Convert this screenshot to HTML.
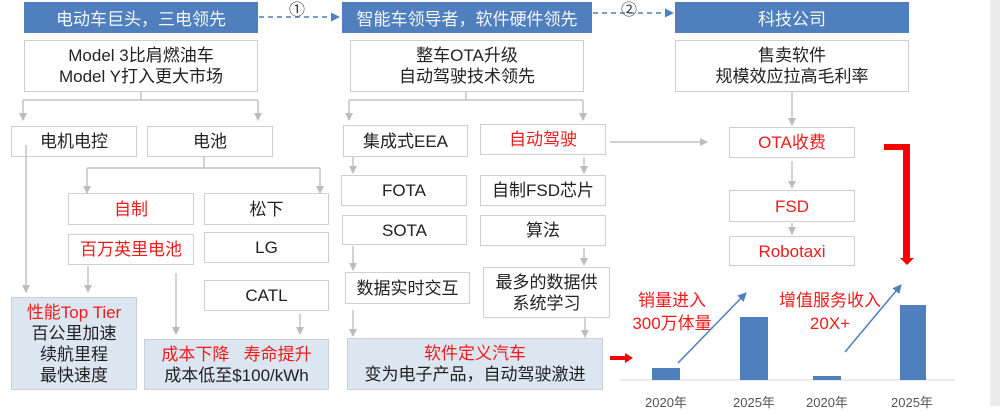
<!DOCTYPE html>
<html><head><meta charset="utf-8"><style>
body{margin:0;width:1000px;height:406px;background:#fff;position:relative;overflow:hidden;font-family:"Liberation Sans","Noto Sans CJK SC",sans-serif;}
.b{position:absolute;box-sizing:border-box;border:1.5px solid #cfcfcf;background:#fff;display:flex;flex-direction:column;align-items:center;justify-content:center;font-size:17px;color:#222;line-height:21px;text-align:center;}
.h{position:absolute;background:#4f7fbc;color:#f4f7fb;font-size:17px;display:flex;align-items:center;justify-content:center;}
.r{color:#f21b1b;}
.f{background:#dce6f1;}
svg{position:absolute;left:0;top:0;}
.y{position:absolute;font-size:13px;color:#555;top:392px;}
.t{position:absolute;color:#f21b1b;font-size:17px;text-align:center;line-height:23px;}
</style></head><body>
<div style="position:absolute;left:990px;top:0;width:10px;height:406px;background:#ececec"></div>
<div class="h" style="left:24px;top:2px;width:234px;height:31px">电动车巨头，三电领先</div>
<div class="h" style="left:342px;top:2px;width:250px;height:31px">智能车领导者，软件硬件领先</div>
<div class="h" style="left:675px;top:2px;width:234px;height:31px">科技公司</div>
<div style="position:absolute;left:289px;top:-4px;font-size:16px;color:#333">①</div>
<div style="position:absolute;left:621px;top:-4px;font-size:16px;color:#333">②</div>

<div class="b" style="left:24px;top:40px;width:234px;height:52px">Model 3比肩燃油车<br>Model Y打入更大市场</div>
<div class="b" style="left:350px;top:40px;width:234px;height:52px">整车OTA升级<br>自动驾驶技术领先</div>
<div class="b" style="left:675px;top:40px;width:234px;height:52px">售卖软件<br>规模效应拉高毛利率</div>

<div class="b" style="left:11px;top:126px;width:126px;height:31px">电机电控</div>
<div class="b" style="left:147px;top:126px;width:126px;height:31px">电池</div>
<div class="b r" style="left:68px;top:193px;width:126px;height:32px">自制</div>
<div class="b" style="left:204px;top:193px;width:125px;height:32px">松下</div>
<div class="b r" style="left:68px;top:234px;width:126px;height:31px">百万英里电池</div>
<div class="b" style="left:204px;top:232px;width:125px;height:31px">LG</div>
<div class="b" style="left:204px;top:280px;width:125px;height:31px">CATL</div>
<div class="b f" style="left:11px;top:297px;width:126px;height:93px"><span class="r">性能Top Tier</span>百公里加速<br>续航里程<br>最快速度</div>
<div class="b f" style="left:144px;top:339px;width:185px;height:51px"><span class="r">成本下降&nbsp;&nbsp;&nbsp;寿命提升</span>成本低至$100/kWh</div>

<div class="b" style="left:343px;top:125px;width:125px;height:32px">集成式EEA</div>
<div class="b r" style="left:480px;top:124px;width:126px;height:31px">自动驾驶</div>
<div class="b" style="left:341px;top:175px;width:126px;height:31px">FOTA</div>
<div class="b" style="left:480px;top:175px;width:126px;height:31px">自制FSD芯片</div>
<div class="b" style="left:342px;top:215px;width:125px;height:30px">SOTA</div>
<div class="b" style="left:480px;top:215px;width:126px;height:31px">算法</div>
<div class="b" style="left:345px;top:272px;width:125px;height:32px">数据实时交互</div>
<div class="b" style="left:483px;top:267px;width:127px;height:51px">最多的数据供<br>系统学习</div>
<div class="b f" style="left:347px;top:338px;width:256px;height:52px"><span class="r">软件定义汽车</span>变为电子产品，自动驾驶激进</div>

<div class="b r" style="left:729px;top:127px;width:126px;height:31px">OTA收费</div>
<div class="b r" style="left:729px;top:190px;width:126px;height:32px">FSD</div>
<div class="b r" style="left:729px;top:236px;width:126px;height:30px">Robotaxi</div>

<div class="t" style="left:612px;top:289px;width:120px">销量进入<br>300万体量</div>
<div class="t" style="left:770px;top:289px;width:120px">增值服务收入<br>20X+</div>
<div class="y" style="left:645px">2020年</div>
<div class="y" style="left:733px">2025年</div>
<div class="y" style="left:806px">2020年</div>
<div class="y" style="left:891px">2025年</div>

<svg width="1000" height="406">
<defs>
<marker id="g" markerWidth="8" markerHeight="8" refX="7" refY="4" orient="auto" markerUnits="userSpaceOnUse"><path d="M0,0 L8,4 L0,8 z" fill="#bdbdbd"/></marker>
<marker id="bl" markerWidth="9" markerHeight="9" refX="8" refY="4.5" orient="auto" markerUnits="userSpaceOnUse"><path d="M0,0 L9,4.5 L0,9 z" fill="#4f7fbc"/></marker>
</defs>
<g stroke="#4f7fbc" stroke-width="1.5" stroke-dasharray="5,4" fill="none">
<line x1="259" y1="17" x2="339" y2="17" marker-end="url(#bl)"/>
<line x1="593" y1="13" x2="673" y2="13" marker-end="url(#bl)"/>
</g>
<g stroke="#c4c4c4" stroke-width="1.5" fill="none">
<path d="M141 92V100M23 100H258"/>
<line x1="23" y1="100" x2="23" y2="120" marker-end="url(#g)"/>
<line x1="258" y1="100" x2="258" y2="120" marker-end="url(#g)"/>
<path d="M204 157V168M87 168H320"/>
<line x1="87" y1="168" x2="87" y2="193" marker-end="url(#g)"/>
<line x1="320" y1="168" x2="320" y2="193" marker-end="url(#g)"/>
<line x1="26" y1="145" x2="26" y2="292" marker-end="url(#g)"/>
<line x1="88" y1="266" x2="88" y2="292" marker-end="url(#g)"/>
<line x1="176" y1="273" x2="176" y2="334" marker-end="url(#g)"/>
<line x1="300" y1="314" x2="300" y2="334" marker-end="url(#g)"/>
<path d="M466 92V100M349 100H583"/>
<line x1="349" y1="100" x2="349" y2="120" marker-end="url(#g)"/>
<line x1="583" y1="100" x2="583" y2="120" marker-end="url(#g)"/>
<line x1="353" y1="157" x2="353" y2="173" marker-end="url(#g)"/>
<line x1="353" y1="246" x2="353" y2="270" marker-end="url(#g)"/>
<line x1="353" y1="310" x2="353" y2="336" marker-end="url(#g)"/>
<line x1="584" y1="157" x2="584" y2="173" marker-end="url(#g)"/>
<line x1="584" y1="248" x2="584" y2="265" marker-end="url(#g)"/>
<line x1="585" y1="318" x2="585" y2="337" marker-end="url(#g)"/>
<line x1="610" y1="142" x2="707" y2="142" marker-end="url(#g)"/>
<line x1="792" y1="92" x2="792" y2="125" marker-end="url(#g)"/>
<line x1="792" y1="161" x2="792" y2="188" marker-end="url(#g)"/>
<line x1="792" y1="223" x2="792" y2="234" marker-end="url(#g)"/>
</g>
<path d="M884 144H910V258H914L907 265L900 258H903V150H884Z" fill="#ff0000"/>
<path d="M610 356H625V353L633 358L625 363V360H610Z" fill="#ff0000"/>
<line x1="620" y1="380" x2="955" y2="380" stroke="#d9d9d9" stroke-width="1"/>
<g fill="#4f7fbc">
<rect x="652" y="368" width="28" height="12"/>
<rect x="740" y="317" width="28" height="63"/>
<rect x="813" y="376" width="28" height="4"/>
<rect x="900" y="305" width="26" height="75"/>
</g>
<line x1="678" y1="363" x2="746" y2="293" stroke="#4f7fbc" stroke-width="1.5" marker-end="url(#bl)"/>
<line x1="845" y1="352" x2="901" y2="285" stroke="#4f7fbc" stroke-width="1.5" marker-end="url(#bl)"/>
</svg>
</body></html>
